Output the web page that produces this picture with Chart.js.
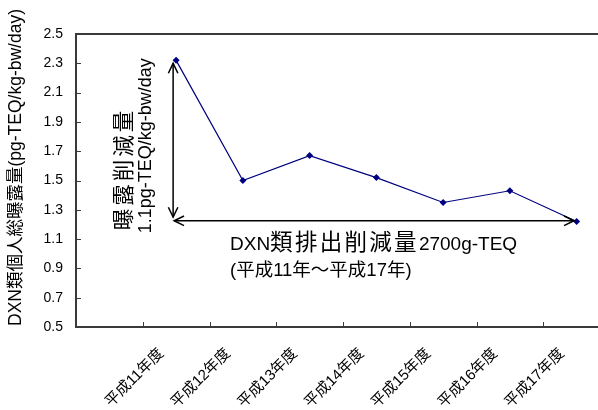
<!DOCTYPE html>
<html>
<head>
<meta charset="utf-8">
<script src="https://cdn.jsdelivr.net/npm/chart.js@4.4.1/dist/chart.umd.min.js"></script>
<style>
  html, body { margin: 0; padding: 0; background: #fff; overflow: hidden; }
  #wrap { width: 598px; height: 410px; overflow: hidden; position: relative; }
  canvas { display: block; }
</style>
</head>
<body>
<div id="wrap"><canvas id="c" width="620" height="410"></canvas></div>
<script>
// 年度別の DXN 類個人総曝露量 (pg-TEQ/kg-bw/day)
const categories = ['', '平成11年度', '平成12年度', '平成13年度', '平成14年度', '平成15年度', '平成16年度', '平成17年度'];
const exposure = [null, 2.32, 1.50, 1.67, 1.52, 1.35, 1.43, 1.22];
const yTickValues = [0.5, 0.7, 0.9, 1.1, 1.3, 1.5, 1.7, 1.9, 2.1, 2.3, 2.5];

const yTitle = 'DXN類個人総曝露量(pg-TEQ/kg-bw/day)';
const exposureNoteLines = ['曝露削減量', '1.1pg-TEQ/kg-bw/day'];
const emissionNoteLines = ['DXN類排出削減量2700g-TEQ', '(平成11年～平成17年)'];

const FONT = "'Liberation Sans', Arial, 'Noto Sans CJK JP', sans-serif";
const CJK_FONT = "'Noto Sans CJK JP', sans-serif";
const AXIS_COLOR = '#3a3a3a';
const CJK_RUN = /[\u3000-\u9fff\uff00-\uffef]+|[^\u3000-\u9fff\uff00-\uffef]+/g;

// 矢印 (開いた V 字の矢じり) を描く
function arrowHead(ctx, x, y, angle) {
  const len = 11, spread = Math.PI / 7;
  ctx.beginPath();
  ctx.moveTo(x - len * Math.cos(angle - spread), y - len * Math.sin(angle - spread));
  ctx.lineTo(x, y);
  ctx.lineTo(x - len * Math.cos(angle + spread), y - len * Math.sin(angle + spread));
  ctx.stroke();
}
function arrow(ctx, x1, y1, x2, y2) {
  ctx.beginPath();
  ctx.moveTo(x1, y1);
  ctx.lineTo(x2, y2);
  ctx.stroke();
  const a = Math.atan2(y2 - y1, x2 - x1);
  arrowHead(ctx, x2, y2, a);
  arrowHead(ctx, x1, y1, a + Math.PI);
}

// 縦書き (90°回転) の注記
function verticalText(ctx, text, x, y, font, spacing) {
  ctx.save();
  ctx.translate(x, y);
  ctx.rotate(-Math.PI / 2);
  ctx.font = font;
  ctx.letterSpacing = spacing || '0px';
  ctx.textAlign = 'left';
  ctx.textBaseline = 'alphabetic';
  ctx.fillText(text, 0, 0);
  ctx.restore();
}

// 和文部分だけ字間を広げて横書きする
function mixedText(ctx, text, x, y, latinFont, cjkFont, cjkSpacing) {
  ctx.save();
  ctx.textAlign = 'left';
  ctx.textBaseline = 'alphabetic';
  let cx = x;
  text.match(CJK_RUN).forEach(run => {
    const isCjk = /[\u3000-\u9fff\uff00-\uffef]/.test(run);
    ctx.font = isCjk ? cjkFont : latinFont;
    ctx.letterSpacing = isCjk ? cjkSpacing : '0px';
    ctx.fillText(run, cx, y);
    cx += ctx.measureText(run).width;
  });
  ctx.restore();
}

// 内向きの目盛り線・上枠・注記・軸タイトル
const decorations = {
  id: 'decorations',
  afterDraw(chart) {
    const { ctx, chartArea: ca, scales: { x, y } } = chart;
    ctx.save();

    // 上枠
    ctx.strokeStyle = AXIS_COLOR;
    ctx.lineWidth = 2;
    ctx.beginPath();
    ctx.moveTo(ca.left, ca.top);
    ctx.lineTo(ca.right, ca.top);
    ctx.stroke();

    // 目盛り線 (プロット内側)
    ctx.lineWidth = 1;
    yTickValues.forEach(v => {
      const py = Math.round(y.getPixelForValue(v)) + 0.5;
      ctx.beginPath();
      ctx.moveTo(ca.left, py);
      ctx.lineTo(ca.left + 5, py);
      ctx.stroke();
    });
    for (let i = 0; i < categories.length; i++) {
      const px = Math.round(x.getPixelForValue(i + 0.5)) + 0.5;
      ctx.beginPath();
      ctx.moveTo(px, ca.bottom);
      ctx.lineTo(px, ca.bottom - 5);
      ctx.stroke();
    }

    // 削減量を示す矢印
    ctx.strokeStyle = '#000';
    ctx.lineWidth = 1.5;
    arrow(ctx, x.getPixelForValue(0.955), y.getPixelForValue(2.30),
               x.getPixelForValue(0.955), y.getPixelForValue(1.25));
    arrow(ctx, x.getPixelForValue(0.97), y.getPixelForValue(1.225),
               x.getPixelForValue(6.96), y.getPixelForValue(1.225));

    // 注記テキスト
    ctx.fillStyle = '#000';
    verticalText(ctx, exposureNoteLines[0], x.getPixelForValue(0.33), y.getPixelForValue(1.16), '21.5px ' + CJK_FONT, '3px');
    verticalText(ctx, exposureNoteLines[1], x.getPixelForValue(0.625), y.getPixelForValue(1.14), '18px ' + FONT);

    mixedText(ctx, emissionNoteLines[0], x.getPixelForValue(1.807), y.getPixelForValue(1.025),
              '19px ' + FONT, '22.5px ' + CJK_FONT, '2.3px');
    ctx.textAlign = 'left';
    ctx.textBaseline = 'middle';
    ctx.font = '18.5px ' + FONT;
    ctx.fillText(emissionNoteLines[1], x.getPixelForValue(1.807), y.getPixelForValue(0.88));

    // 縦軸タイトル
    ctx.font = '17.5px ' + FONT;
    ctx.save();
    ctx.translate(16, (ca.top + ca.bottom) / 2 - 13);
    ctx.rotate(-Math.PI / 2);
    ctx.textAlign = 'center';
    ctx.textBaseline = 'middle';
    ctx.fillText(yTitle, 0, 0);
    ctx.restore();

    ctx.restore();
  }
};

new Chart(document.getElementById('c'), {
  type: 'line',
  data: {
    labels: categories,
    datasets: [{
      data: exposure,
      borderColor: '#000080',
      backgroundColor: '#000080',
      borderWidth: 1.2,
      pointStyle: 'rectRot',
      pointRadius: 3.5,
      pointHoverRadius: 3.5,
      pointBorderWidth: 0,
      spanGaps: false,
      tension: 0
    }]
  },
  options: {
    responsive: false,
    animation: false,
    events: [],
    layout: { padding: { top: 34, right: 10, left: 0, bottom: 0 } },
    plugins: { legend: { display: false }, tooltip: { enabled: false } },
    scales: {
      x: {
        offset: true,
        afterFit(s) { s.height = 83; },
        grid: { display: false, drawTicks: false, offset: true },
        border: { display: true, color: AXIS_COLOR, width: 2 },
        ticks: {
          autoSkip: false,
          minRotation: 45,
          maxRotation: 45,
          padding: 3,
          color: '#000',
          font: { family: FONT, size: 15 },
          // 末尾の空白で斜めラベルを目盛りの左下へずらす
          callback: (v, i) => categories[i] ? categories[i] + '     ' : ''
        }
      },
      y: {
        min: 0.5,
        max: 2.5,
        afterFit(s) { s.width = 76; },
        afterBuildTicks(s) { s.ticks = yTickValues.map(v => ({ value: v })); },
        grid: { display: false, drawTicks: false },
        border: { display: true, color: AXIS_COLOR, width: 2 },
        ticks: {
          padding: 13,
          color: '#000',
          font: { family: FONT, size: 14 },
          callback: v => Number(v).toFixed(1)
        }
      }
    }
  },
  plugins: [decorations]
});
</script>
</body>
</html>
